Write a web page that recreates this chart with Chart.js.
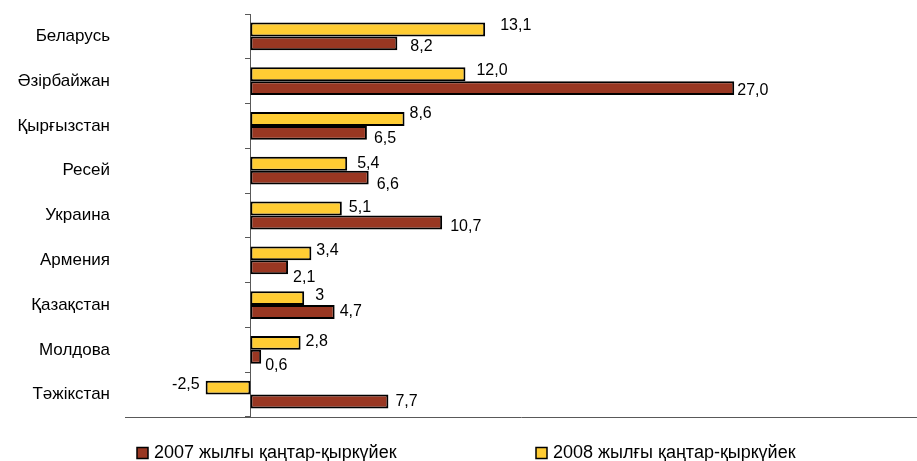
<!DOCTYPE html>
<html>
<head>
<meta charset="utf-8">
<script src="https://cdn.jsdelivr.net/npm/chart.js@4/dist/chart.umd.min.js"></script>
<style>
  html, body { margin: 0; padding: 0; background: #ffffff; }
  canvas { display: block; }
</style>
</head>
<body>
<canvas id="chart" width="917" height="461"></canvas>
<script>
// ---- data ----
const categories = ['Беларусь', 'Әзірбайжан', 'Қырғызстан', 'Ресей', 'Украина', 'Армения', 'Қазақстан', 'Молдова', 'Тәжікстан'];
const seriesNames = ['2007 жылғы қаңтар-қыркүйек', '2008 жылғы қаңтар-қыркүйек'];
const values2007 = [8.2, 27.0, 6.5, 6.6, 10.7, 2.1, 4.7, 0.6, 7.7];
const values2008 = [13.1, 12.0, 8.6, 5.4, 5.1, 3.4, 3, 2.8, -2.5];
const labels2007 = ['8,2', '27,0', '6,5', '6,6', '10,7', '2,1', '4,7', '0,6', '7,7'];
const labels2008 = ['13,1', '12,0', '8,6', '5,4', '5,1', '3,4', '3', '2,8', '-2,5'];

// ---- styles ----
const FONT = '"Liberation Sans", Arial, sans-serif';
const COLOR_2007 = '#993722';
const COLOR_2008 = '#FFCC33';
const AXIS_COLOR = '#595959';

// label nudges relative to the bar end [dx, dy]
const nudges2008 = [[15,-3.5],[11,-4],[5,-5],[10,0],[7,-1],[5,-3],[11,-3],[5,-1],[6,-3.5]];
const nudges2007 = [[13,3.5],[3,2],[7,6],[8,7],[8,4],[5,10],[5,0],[4,9],[7,0]];

const valueLabels = {
  id: 'valueLabels',
  afterDatasetsDraw(chart, args, opts) {
    const ctx = chart.ctx;
    ctx.save();
    ctx.font = '16px ' + FONT;
    ctx.fillStyle = '#000000';
    ctx.textBaseline = 'middle';
    chart.data.datasets.forEach((ds, di) => {
      const meta = chart.getDatasetMeta(di);
      const nud = opts.nudges[di];
      meta.data.forEach((bar, i) => {
        const v = ds.data[i];
        const neg = v < 0;
        const [dx, dy] = nud[i];
        ctx.textAlign = neg ? 'right' : 'left';
        ctx.fillText(opts.texts[di][i], bar.x + (neg ? -dx : dx), bar.y + dy);
      });
    });
    ctx.restore();
  }
};

const bottomLegend = {
  id: 'bottomLegend',
  afterDraw(chart, args, opts) {
    const ctx = chart.ctx;
    ctx.save();
    ctx.font = '18px ' + FONT;
    ctx.textBaseline = 'middle';
    ctx.textAlign = 'left';
    const y = chart.chartArea.bottom + opts.offsetY;
    opts.items.forEach((it, k) => {
      const x = opts.x0 + k * opts.step;
      ctx.fillStyle = it.color;
      ctx.fillRect(x, y - 5.5, 11, 11);
      ctx.strokeStyle = '#000000';
      ctx.lineWidth = 1.5;
      ctx.strokeRect(x, y - 5.5, 11, 11);
      ctx.fillStyle = '#000000';
      ctx.fillText(it.text, x + 17, y);
    });
    ctx.restore();
  }
};

new Chart(document.getElementById('chart'), {
  type: 'bar',
  data: {
    labels: categories,
    datasets: [
      { label: seriesNames[1], data: values2008, backgroundColor: COLOR_2008, borderColor: '#000000', borderWidth: 2, borderSkipped: false },
      { label: seriesNames[0], data: values2007, backgroundColor: COLOR_2007, borderColor: '#000000', borderWidth: 2, borderSkipped: false }
    ]
  },
  options: {
    indexAxis: 'y',
    responsive: false,
    animation: false,
    layout: { padding: { top: 14, bottom: 44, left: 0, right: 0 } },
    datasets: { bar: { categoryPercentage: 0.62, barPercentage: 1.0 } },
    scales: {
      x: {
        min: -7, max: 37.2,
        grid: { display: false, drawTicks: false },
        border: { display: true, color: AXIS_COLOR, width: 1 },
        ticks: { display: false }
      },
      y: {
        position: 'left',
        offset: true,
        grid: { display: false, drawTicks: false },
        border: { display: false },
        ticks: { color: '#000000', font: { size: 17, family: FONT }, padding: 15 },
        afterFit(scale) { scale.width = 125; scale.paddingTop = 0; scale.paddingBottom = 0; }
      },
      y2: {
        axis: 'y',
        type: 'category',
        labels: categories,
        position: { x: 0 },
        offset: true,
        grid: { display: true, offset: true, drawOnChartArea: false, drawTicks: true, tickLength: 5, color: AXIS_COLOR, lineWidth: 1 },
        border: { display: true, color: AXIS_COLOR, width: 1 },
        ticks: { display: false },
        afterFit(scale) { scale.paddingTop = 0; scale.paddingBottom = 0; }
      }
    },
    plugins: {
      legend: { display: false },
      tooltip: { enabled: false },
      valueLabels: { nudges: [nudges2008, nudges2007], texts: [labels2008, labels2007] },
      bottomLegend: {
        x0: 137, step: 399, offsetY: 36,
        items: [
          { text: seriesNames[0], color: COLOR_2007 },
          { text: seriesNames[1], color: COLOR_2008 }
        ]
      }
    }
  },
  plugins: [valueLabels, bottomLegend]
});
</script>
</body>
</html>
